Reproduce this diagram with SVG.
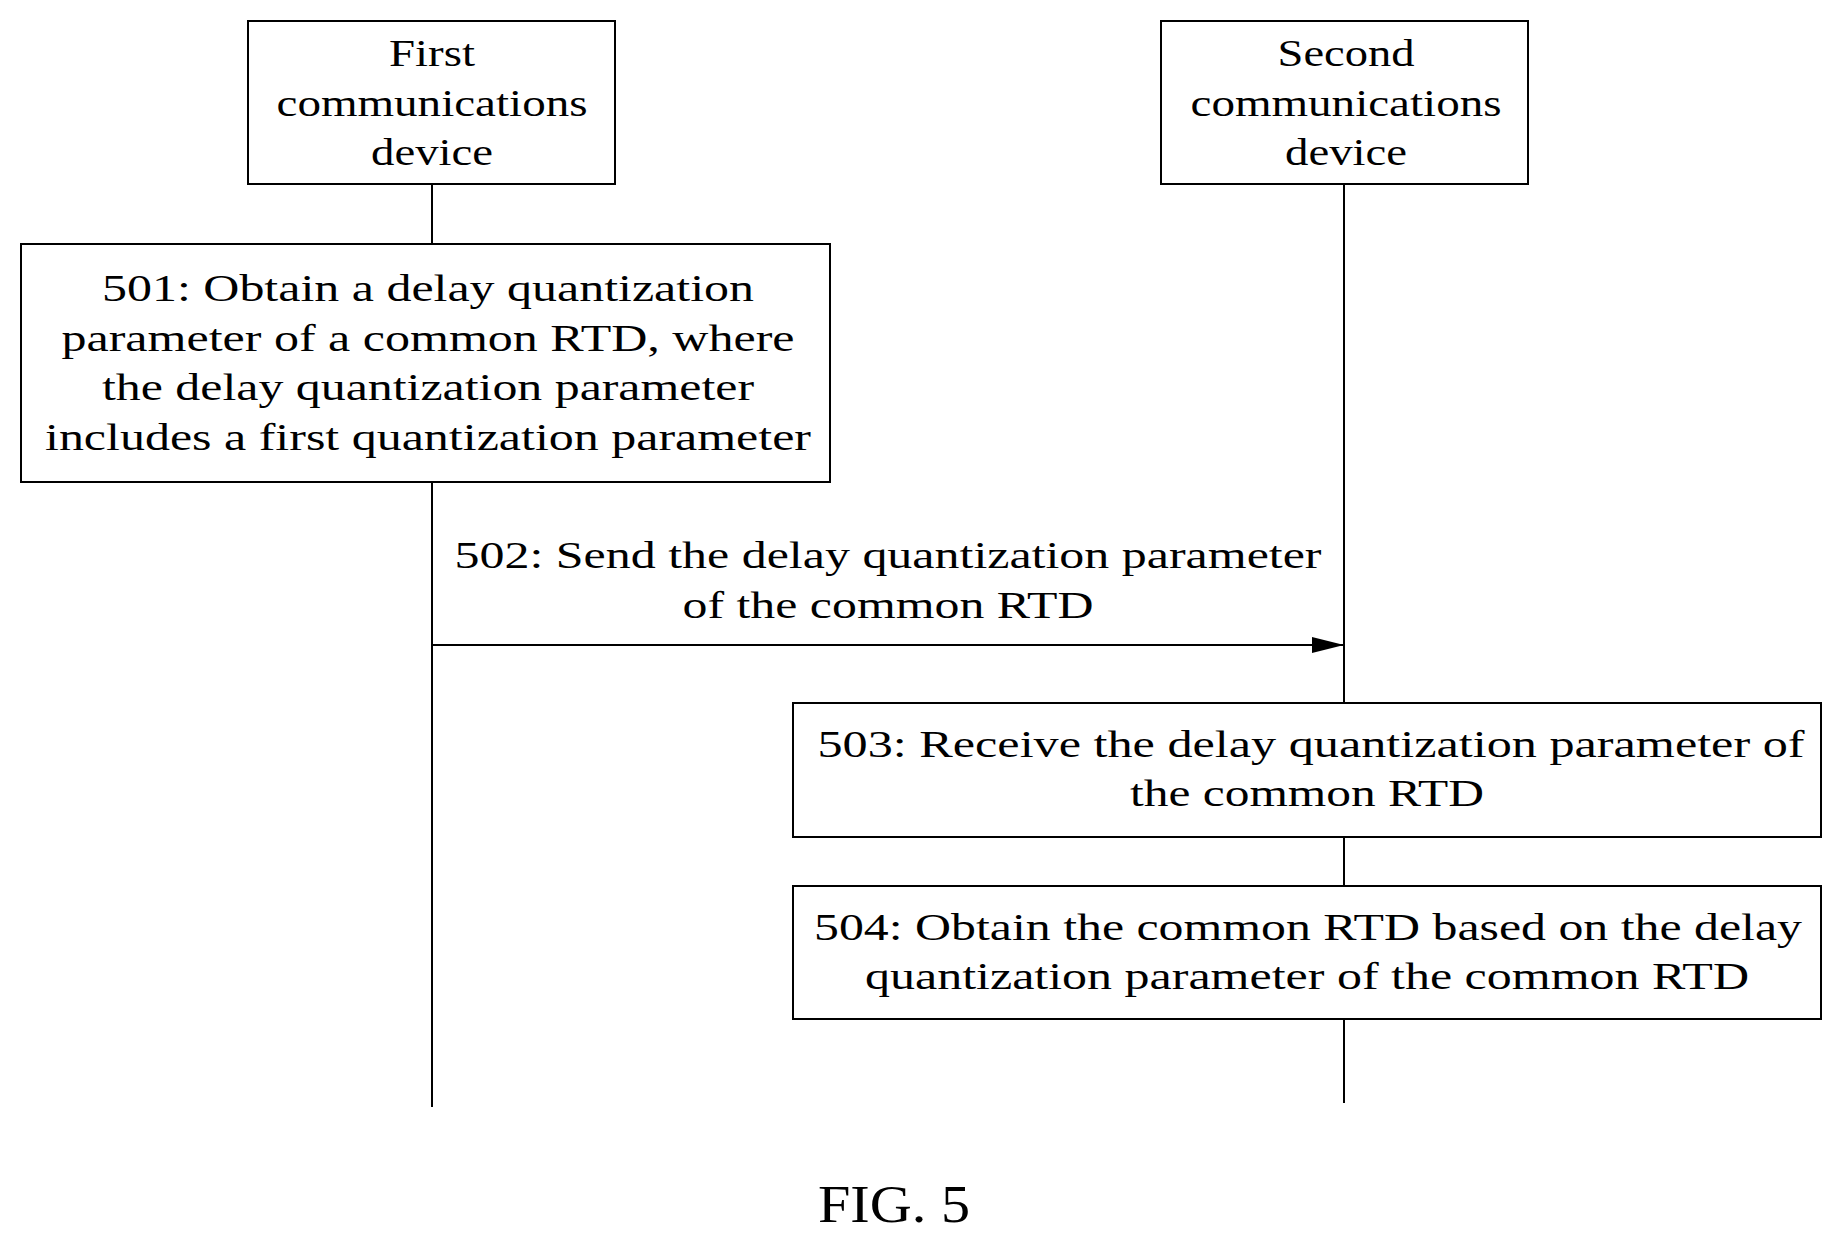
<svg xmlns="http://www.w3.org/2000/svg" width="1837" height="1239" viewBox="0 0 1837 1239">
<defs>
<style>
rect{fill:#fff;stroke:#000;stroke-width:2}
line{stroke:#000;stroke-width:2}
text{font-family:"Liberation Serif","Times New Roman",serif;font-size:38px;text-anchor:middle;fill:#000}
</style>
<marker id="ah" markerWidth="32" markerHeight="16" refX="32" refY="8" orient="auto" markerUnits="userSpaceOnUse"><path d="M0,0 L32,8 L0,16 Z" fill="#000"/></marker>
</defs>
<rect width="1837" height="1239" style="stroke:none"/>
<g id="connectors">
<line x1="432" y1="184" x2="432" y2="244"/>
<line x1="432" y1="482" x2="432" y2="1107"/>
<line x1="1344" y1="184" x2="1344" y2="703"/>
<line x1="1344" y1="837" x2="1344" y2="886"/>
<line x1="1344" y1="1019" x2="1344" y2="1103"/>
<line x1="432" y1="645" x2="1344" y2="645" marker-end="url(#ah)"/>
<text x="888" y="568" textLength="867" lengthAdjust="spacingAndGlyphs">502: Send the delay quantization parameter</text>
<text x="888" y="618" textLength="411" lengthAdjust="spacingAndGlyphs">of the common RTD</text>
</g>
<g id="first">
<rect x="248" y="21" width="367" height="163"/>
<text x="432" y="66" textLength="86" lengthAdjust="spacingAndGlyphs">First</text>
<text x="432" y="116" textLength="311" lengthAdjust="spacingAndGlyphs">communications</text>
<text x="432" y="165" textLength="122" lengthAdjust="spacingAndGlyphs">device</text>
</g>
<g id="second">
<rect x="1161" y="21" width="367" height="163"/>
<text x="1346" y="66" textLength="137" lengthAdjust="spacingAndGlyphs">Second</text>
<text x="1346" y="116" textLength="311" lengthAdjust="spacingAndGlyphs">communications</text>
<text x="1346" y="165" textLength="122" lengthAdjust="spacingAndGlyphs">device</text>
</g>
<g id="s501">
<rect x="21" y="244" width="809" height="238"/>
<text x="428" y="301" textLength="652" lengthAdjust="spacingAndGlyphs">501: Obtain a delay quantization</text>
<text x="428" y="351" textLength="733" lengthAdjust="spacingAndGlyphs">parameter of a common RTD, where</text>
<text x="428" y="400" textLength="652" lengthAdjust="spacingAndGlyphs">the delay quantization parameter</text>
<text x="428" y="450" textLength="766" lengthAdjust="spacingAndGlyphs">includes a first quantization parameter</text>
</g>
<g id="s503">
<rect x="793" y="703" width="1028" height="134"/>
<text x="1311" y="757" textLength="987" lengthAdjust="spacingAndGlyphs">503: Receive the delay quantization parameter of</text>
<text x="1307" y="806" textLength="354" lengthAdjust="spacingAndGlyphs">the common RTD</text>
</g>
<g id="s504">
<rect x="793" y="886" width="1028" height="133"/>
<text x="1308" y="940" textLength="988" lengthAdjust="spacingAndGlyphs">504: Obtain the common RTD based on the delay</text>
<text x="1307" y="989" textLength="884" lengthAdjust="spacingAndGlyphs">quantization parameter of the common RTD</text>
</g>
<text x="894" y="1222" style="font-size:52px" textLength="152" lengthAdjust="spacingAndGlyphs">FIG. 5</text>
</svg>
